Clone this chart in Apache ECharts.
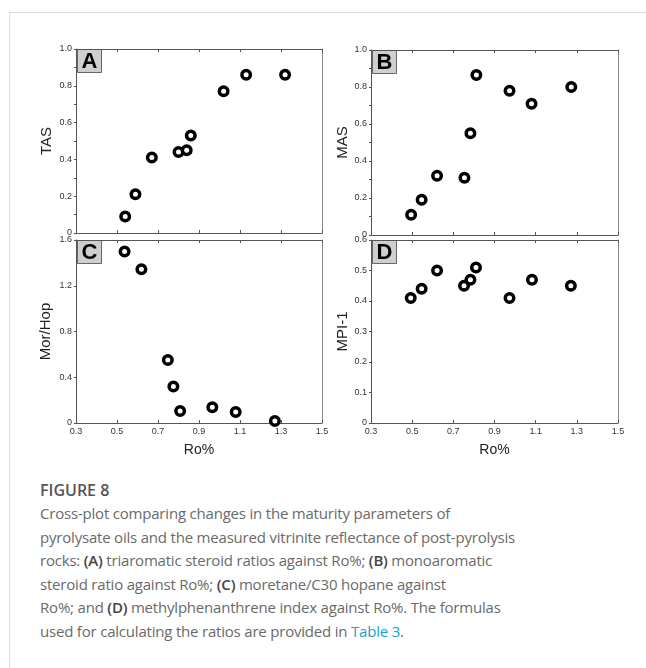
<!DOCTYPE html>
<html>
<head>
<meta charset="utf-8">
<script src="https://cdn.jsdelivr.net/npm/echarts@6/dist/echarts.min.js"></script>
<style>
  html, body { margin:0; padding:0; width:646px; height:668px; background:#fff; overflow:hidden; }
  #frameTop { position:absolute; left:9px; top:12px; width:637px; height:1px; background:#ddd; z-index:5; }
  #frameLeft { position:absolute; left:9px; top:12px; width:1px; height:656px; background:#ddd; z-index:5; }
  #chart { position:absolute; left:0; top:0; width:646px; height:470px; }
  #cap { position:absolute; left:40px; top:478px; font-family:"Open Sans", "Noto Sans", sans-serif; color:#6a6a6a; }
  #cap .fig { font-size:16px; font-weight:600; color:#555; line-height:24px; }
  #cap .txt { font-size:15px; line-height:23.6px; white-space:nowrap; letter-spacing:-0.2px; }
  #cap b { font-weight:600; color:#444; }
  #cap .lnk { color:#1aa3c0; }
</style>
</head>
<body>
<div id="frameTop"></div>
<div id="frameLeft"></div>
<div id="chart"></div>
<div id="cap">
  <div class="fig">FIGURE 8</div>
  <div class="txt">Cross-plot comparing changes in the maturity parameters of<br>pyrolysate oils and the measured vitrinite reflectance of post-pyrolysis<br>rocks: <b>(A)</b> triaromatic steroid ratios against Ro%; <b>(B)</b> monoaromatic<br>steroid ratio against Ro%; <b>(C)</b> moretane/C30 hopane against<br>Ro%; and <b>(D)</b> methylphenanthrene index against Ro%. The formulas<br>used for calculating the ratios are provided in <span class="lnk">Table 3</span>.</div>
</div>
<script>
// ---- data ----
const roA   = [0.54, 0.59, 0.67, 0.80, 0.84, 0.86, 1.02, 1.13, 1.32];
const tas   = [0.09, 0.21, 0.41, 0.44, 0.45, 0.53, 0.77, 0.86, 0.86];
const roB   = [0.495, 0.546, 0.621, 0.754, 0.783, 0.812, 0.973, 1.08, 1.273];
const mas   = [0.11, 0.19, 0.32, 0.31, 0.55, 0.865, 0.78, 0.71, 0.80];
const roC   = [0.537, 0.619, 0.748, 0.775, 0.808, 0.965, 1.079, 1.27];
const morHop= [1.50, 1.345, 0.55, 0.32, 0.105, 0.137, 0.096, 0.018];
const roD   = [0.493, 0.546, 0.621, 0.752, 0.783, 0.81, 0.973, 1.082, 1.271];
const mpi   = [0.41, 0.44, 0.50, 0.45, 0.47, 0.51, 0.41, 0.47, 0.45];
const xTicks = ['0.3','0.5','0.7','0.9','1.1','1.3','1.5'];
const panelLetters = ['A','B','C','D'];
const yNames = ['TAS','MAS','Mor/Hop','MPI-1'];
const yMax = [1.0, 1.0, 1.6, 0.6];
const yInt = [0.2, 0.2, 0.4, 0.1];

const grids = [
  {left:76, top:49, width:246, height:184},
  {left:371, top:50, width:247, height:185},
  {left:76, top:240, width:246, height:183},
  {left:371, top:240, width:247, height:183}
];
const series = [[roA,tas],[roB,mas],[roC,morHop],[roD,mpi]];
const nameGaps = [22, 17, 23, 18];

const lineStyle = {color:'#555', width:1};
const xAxis = [], yAxis = [], ser = [], graphic = [];
grids.forEach((g, i) => {
  const showLabel = i >= 2;
  xAxis.push({
    type:'value', gridIndex:i, min:0.3, max:1.5, interval:0.2, position:'bottom',
    axisLine:{show:true, onZero:false, lineStyle},
    axisTick:{show:true, inside:true, length:3, lineStyle},
    splitLine:{show:false},
    axisLabel:{show:showLabel, fontSize:9, color:'#333', fontFamily:'Liberation Sans', margin:4,
      formatter: v => xTicks[Math.round((v-0.3)/0.2)] || ''},
    name: showLabel ? 'Ro%' : '', nameLocation:'middle', nameGap:20,
    nameTextStyle:{fontSize:14, color:'#222', fontFamily:'Liberation Sans'}
  });
  xAxis.push({
    type:'value', gridIndex:i, min:0.3, max:1.5, interval:0.2, position:'top',
    axisLine:{show:true, onZero:false, lineStyle},
    axisTick:{show:true, inside:true, length:3, lineStyle},
    splitLine:{show:false}, axisLabel:{show:false}
  });
  yAxis.push({
    type:'value', gridIndex:i, min:0, max:yMax[i], interval:yInt[i],
    axisLine:{show:true, onZero:false, lineStyle},
    axisTick:{show:true, length:2, lineStyle},
    minorTick:{show: i<2, splitNumber:2, length:2, lineStyle},
    splitLine:{show:false},
    axisLabel:{fontSize:9, color:'#333', fontFamily:'Liberation Sans', margin:4,
      formatter: v => v===0 ? '0' : v.toFixed(1)},
    name: yNames[i], nameLocation:'middle', nameGap:nameGaps[i], nameRotate:90,
    nameTextStyle:{fontSize:15, color:'#222', fontFamily:'Liberation Sans'}
  });
  yAxis.push({
    type:'value', gridIndex:i, min:0, max:yMax[i], position:'right',
    axisLine:{show:true, onZero:false, lineStyle:{color:'#888', width:1}},
    axisTick:{show:false}, axisLabel:{show:false}, splitLine:{show:false}
  });
  const [xs, ys] = series[i];
  ser.push({
    type:'scatter', xAxisIndex:2*i, yAxisIndex:2*i,
    data: xs.map((x, k) => [x, ys[k]]),
    symbol:'circle', symbolSize:8.5,
    itemStyle:{color:'#fff', borderColor:'#000', borderWidth:3.5, opacity:1},
    z:5
  });
  graphic.push({
    type:'group', left:g.left+1, top:g.top, z:10,
    children:[
      {type:'rect', shape:{x:0, y:0, width:24, height:23},
        style:{fill:'#cfcfcf', stroke:'#666', lineWidth:1}},
      {type:'text', x:12, y:12, style:{text:panelLetters[i], fill:'#000',
        font:'bold 22px "Liberation Sans", Arial, sans-serif', align:'center', verticalAlign:'middle'}}
    ]
  });
});

const chart = echarts.init(document.getElementById('chart'), null, {renderer:'canvas'});
chart.setOption({
  animation:false,
  backgroundColor:'transparent',
  grid: grids.map(g => Object.assign({}, g, {show:false})),
  xAxis, yAxis, series: ser, graphic
});
</script>
</body>
</html>
